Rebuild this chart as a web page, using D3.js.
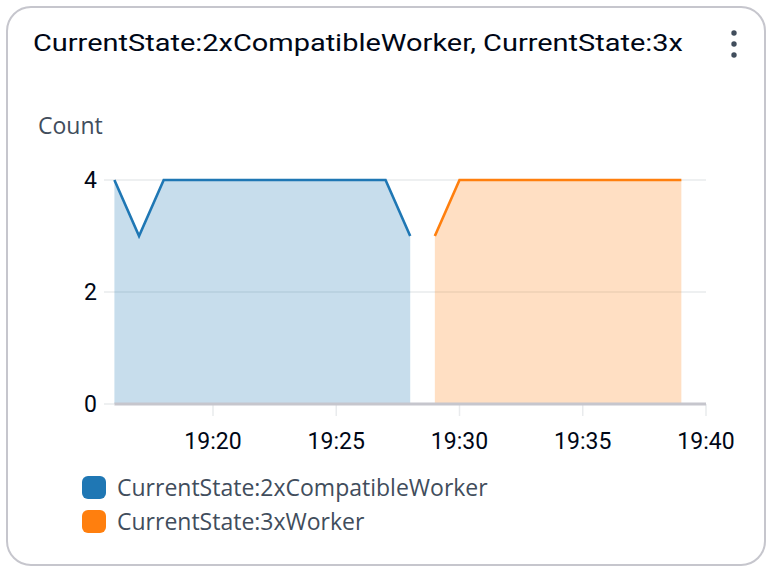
<!DOCTYPE html>
<html>
<head>
<meta charset="utf-8">
<script src="https://cdn.jsdelivr.net/npm/d3@7"></script>
<style>
  body { margin: 0; background: #fff; }
  text { font-family: Roboto, "Noto Sans", sans-serif; }
  .soft { font-family: "Open Sans", "Noto Sans", sans-serif; }
</style>
</head>
<body>
<div class="chart"></div>
<script>
// chart data
var seriesNames = ["CurrentState:2xCompatibleWorker", "CurrentState:3xWorker"];
var seriesColors = ["#1f77b4", "#ff7f0e"];
var times2x = ["19:16", "19:17", "19:18", "19:19", "19:20", "19:21", "19:22", "19:23", "19:24", "19:25", "19:26", "19:27", "19:28"];
var values2x = [4, 3, 4, 4, 4, 4, 4, 4, 4, 4, 4, 4, 3];
var times3x = ["19:29", "19:30", "19:31", "19:32", "19:33", "19:34", "19:35", "19:36", "19:37", "19:38", "19:39"];
var values3x = [3, 4, 4, 4, 4, 4, 4, 4, 4, 4, 4];
var yTicks = [0, 2, 4];
var xTicks = ["19:20", "19:25", "19:30", "19:35", "19:40"];
var title = "CurrentState:2xCompatibleWorker, CurrentState:3x";

var svgWidth = 772;
var svgHeight = 572;

var parseTime = d3.timeParse("%Y-%m-%d %H:%M");
function toDate(t) { return parseTime("2024-01-01 " + t); }

var series = [
  { name: seriesNames[0], color: seriesColors[0], data: times2x.map((t, i) => ({ t: toDate(t), v: values2x[i] })) },
  { name: seriesNames[1], color: seriesColors[1], data: times3x.map((t, i) => ({ t: toDate(t), v: values3x[i] })) }
];

var svg = d3.select(".chart")
  .append("svg")
  .attr("width", svgWidth)
  .attr("height", svgHeight);

// card
svg.append("rect")
  .attr("x", 7).attr("y", 7)
  .attr("width", 758).attr("height", 558)
  .attr("rx", 24)
  .attr("fill", "#fff")
  .attr("stroke", "#c6c6cd")
  .attr("stroke-width", 2);

svg.append("text")
  .attr("x", 33).attr("y", 51)
  .attr("font-size", 24)
  .attr("fill", "#000716")
  .attr("textLength", 650)
  .attr("lengthAdjust", "spacingAndGlyphs")
  .text(title);

// kebab menu
[33, 44, 55].forEach(function(cy) {
  svg.append("circle").attr("cx", 734).attr("cy", cy).attr("r", 2.7).attr("fill", "#414d5c");
});

svg.append("text")
  .attr("class", "soft")
  .attr("x", 38).attr("y", 134)
  .attr("font-size", 23)
  .attr("fill", "#414d5c")
  .text("Count");

var x = d3.scaleTime()
  .domain([toDate("19:16"), toDate("19:40")])
  .range([114.4, 706]);

var y = d3.scaleLinear()
  .domain([0, 4])
  .range([404, 180]);

var chartGroup = svg.append("g");

// gridlines
chartGroup.selectAll(".grid")
  .data(yTicks.filter(d => d > 0))
  .enter()
  .append("line")
  .attr("x1", 104).attr("x2", 706)
  .attr("y1", d => y(d)).attr("y2", d => y(d))
  .attr("stroke", "#e9ebed")
  .attr("stroke-width", 1.5);

// y tick marks and labels
chartGroup.append("line")
  .attr("x1", 104).attr("x2", 114)
  .attr("y1", y(0)).attr("y2", y(0))
  .attr("stroke", "#e9ebed").attr("stroke-width", 1.5);

chartGroup.selectAll(".ylabel")
  .data(yTicks)
  .enter()
  .append("text")
  .attr("x", 97)
  .attr("y", d => y(d))
  .attr("dy", "0.35em")
  .attr("text-anchor", "end")
  .attr("font-size", 23)
  .attr("fill", "#000716")
  .text(d => d);

// areas and lines
var area = d3.area()
  .x(d => x(d.t))
  .y0(y(0))
  .y1(d => y(d.v));

var line = d3.line()
  .x(d => x(d.t))
  .y(d => y(d.v));

series.forEach(function(s) {
  chartGroup.append("path")
    .datum(s.data)
    .attr("d", area)
    .attr("fill", s.color)
    .attr("fill-opacity", 0.25);
  chartGroup.append("path")
    .datum(s.data)
    .attr("d", line)
    .attr("fill", "none")
    .attr("stroke", s.color)
    .attr("stroke-width", 2.6);
});

// x axis
var xTickDates = xTicks.map(toDate);
chartGroup.selectAll(".xtick")
  .data(xTickDates)
  .enter()
  .append("line")
  .attr("x1", d => x(d)).attr("x2", d => x(d))
  .attr("y1", y(0)).attr("y2", y(0) + 12)
  .attr("stroke", "#e9ebed")
  .attr("stroke-width", 1.5);

chartGroup.append("line")
  .attr("x1", x.range()[0]).attr("x2", x.range()[1])
  .attr("y1", y(0)).attr("y2", y(0))
  .attr("stroke", "#c6c6cd")
  .attr("stroke-width", 3);

chartGroup.selectAll(".xlabel")
  .data(xTickDates)
  .enter()
  .append("text")
  .attr("x", d => x(d))
  .attr("y", 441)
  .attr("dy", "0.35em")
  .attr("text-anchor", "middle")
  .attr("font-size", 23)
  .attr("fill", "#000716")
  .text(d => d3.timeFormat("%H:%M")(d));

// legend
var legend = svg.selectAll(".legend")
  .data(series)
  .enter()
  .append("g")
  .attr("transform", (d, i) => `translate(82, ${476 + i * 34})`);

legend.append("rect")
  .attr("width", 24).attr("height", 23)
  .attr("rx", 6)
  .attr("fill", d => d.color);

legend.append("text")
  .attr("class", "soft")
  .attr("x", 35).attr("y", 12)
  .attr("dy", "0.35em")
  .attr("font-size", 23)
  .attr("fill", "#414d5c")
  .text(d => d.name);
</script>
</body>
</html>
